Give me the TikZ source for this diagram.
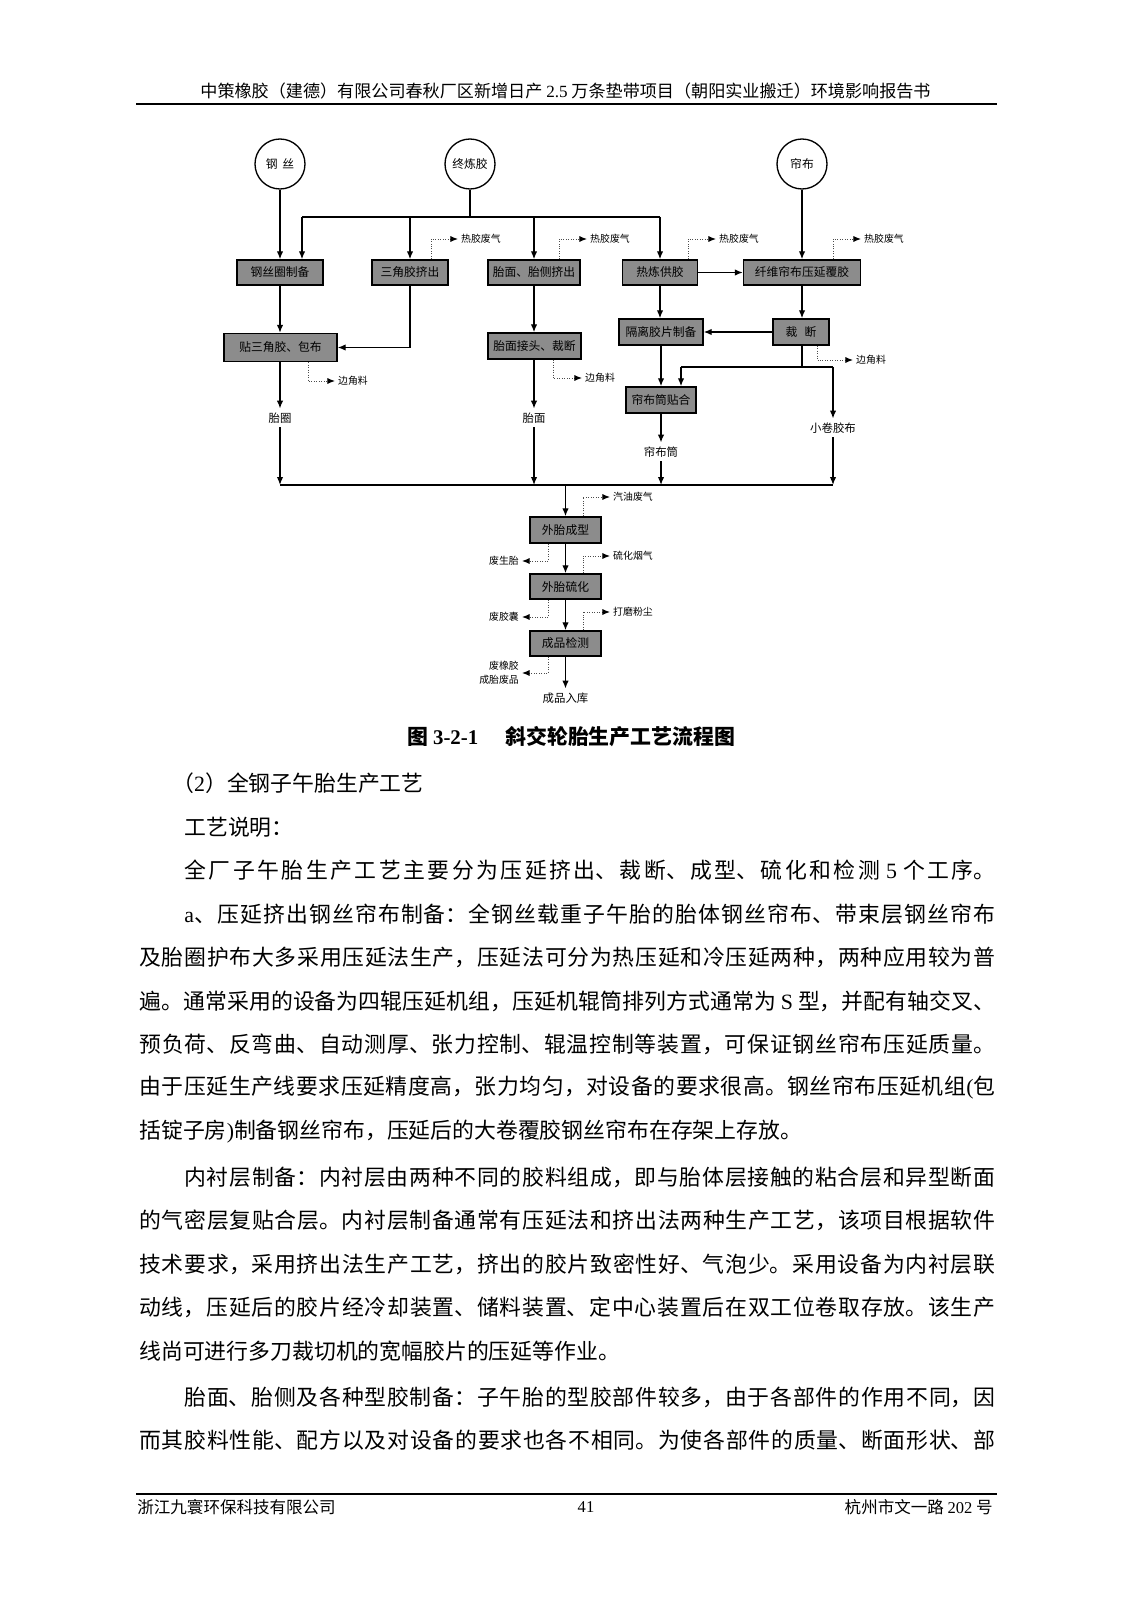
\documentclass[tikz,border=0pt]{standalone}
\usepackage{fontspec}
\setmainfont{Noto Sans CJK SC}
\newfontfamily\lat{Liberation Serif}
\usetikzlibrary{arrows.meta}
\XeTeXlinebreaklocale "zh"
\XeTeXlinebreakskip=0pt plus 3pt minus 0.4pt
\definecolor{boxgray}{gray}{0.55}
\def\pu{0.5263pt}
\newcommand\jline[1]{\parfillskip=0pt\tolerance=10000 #1\par}
\begin{document}
\begin{tikzpicture}[x=0.5263pt, y=-0.5263pt,
  pbox/.style={draw, fill=boxgray, line width=0.75pt, inner sep=0pt, minimum height=25*\pu, font=\fontsize{6.2}{7}\selectfont},
  pcirc/.style={draw, circle, fill=white, line width=0.7pt, minimum size=50*\pu, inner sep=0pt, font=\fontsize{6.2}{7}\selectfont},
  arr/.style={line width=0.7pt, -{Latex[length=4.2pt,width=3.4pt]}},
  plain line/.style={line width=0.7pt},
  dotarr/.style={gray!60!black, line width=0.5pt, dash pattern=on 0.5pt off 0.8pt, -{Latex[length=4pt,width=3.2pt,color=black]}},
  wlbl/.style={inner sep=1.5pt, font=\fontsize{5.2}{7.4}\selectfont},
  olbl/.style={inner sep=2pt, font=\fontsize{6}{7}\selectfont},
  bodytxt/.style={inner sep=0pt, anchor=west, font=\fontsize{11.5}{14}\selectfont},
  jtxt/.style={bodytxt, align=justify},
  hftxt/.style={inner sep=0pt, font=\fontsize{8.7}{10}\selectfont},
]
\useasboundingbox (0,0) rectangle (1131,1600);
\fill[white] (0,0) rectangle (1131,1600);

% header and footer
\node[hftxt, font=\fontsize{9}{10}\selectfont] (hdr) at (565.5,91) {中策橡胶（建德）有限公司春秋厂区新增日产 {\lat 2.5} 万条垫带项目（朝阳实业搬迁）环境影响报告书};
\draw[line width=1pt] (136,104) -- (997,104);
\draw[line width=0.6pt] (136,1494) -- (997,1494);
\node[hftxt, anchor=west] (fl) at (137,1507) {浙江九寰环保科技有限公司};
\node[hftxt] (fc) at (586,1507) {\lat 41};
\node[hftxt, anchor=east] (fr) at (993,1507) {杭州市文一路 {\lat 202} 号};

% circles
\node[pcirc] (C1) at (280,164) {钢\hspace{0.4em}丝};
\node[pcirc] (C2) at (470,164) {终炼胶};
\node[pcirc] (C3) at (802,164) {帘布};

% boxes
\node[pbox, minimum width=86*\pu] (B1) at (280,272.5) {钢丝圈制备};
\node[pbox, minimum width=76*\pu] (B2) at (410,272.5) {三角胶挤出};
\node[pbox, minimum width=92*\pu] (B3) at (534,272.5) {胎面、胎侧挤出};
\node[pbox, minimum width=75*\pu] (B4) at (660,272.5) {热炼供胶};
\node[pbox, minimum width=117*\pu] (B5) at (802,272.5) {纤维帘布压延覆胶};
\node[pbox, minimum width=113*\pu, minimum height=28*\pu] (B6) at (280.5,347.5) {贴三角胶、包布};
\node[pbox, minimum width=93*\pu, minimum height=26*\pu] (B7) at (534.5,346) {胎面接头、裁断};
\node[pbox, minimum width=84*\pu, minimum height=26*\pu] (B8) at (661,332) {隔离胶片制备};
\node[pbox, minimum width=56*\pu, minimum height=26*\pu] (B9) at (801,332) {裁\hspace{0.6em}断};
\node[pbox, minimum width=70*\pu, minimum height=26*\pu] (B10) at (661,400) {帘布筒贴合};
\node[pbox, minimum width=71*\pu, minimum height=26*\pu] (B11) at (565.5,530) {外胎成型};
\node[pbox, minimum width=71*\pu] (B12) at (565.5,586.5) {外胎硫化};
\node[pbox, minimum width=71*\pu] (B13) at (565.5,643.5) {成品检测};

% top bus
\coordinate (j1) at (302,217);
\coordinate (j4) at (660,217);
\draw[plain line] (C2.south) -- (C2.south |- j1);
\draw[plain line] (j1) -- (j4);
\draw[arr] (C1.south) -- (B1.north);
\draw[arr] (j1) -- (j1 |- B1.north);
\draw[arr] (B2.north |- j1) -- (B2.north);
\draw[arr] (B3.north |- j1) -- (B3.north);
\draw[arr] (j4) -- (B4.north);
\draw[arr] (C3.south) -- (B5.north);
\draw[arr] (B4.east) -- (B5.west);

% second row
\draw[arr] (B1.south) -- (B1.south |- B6.north);
\draw[arr] (B2.south) |- (B6.east);
\draw[arr] (B3.south) -- (B3.south |- B7.north);
\draw[arr] (B4.south) -- (B4.south |- B8.north);
\draw[arr] (B5.south) -- (B5.south |- B9.north);
\draw[arr] (B9.west) -- (B8.east);
\draw[arr] (B8.south) -- (B10.north);

% split below cutting
\coordinate (k) at (802,367);
\coordinate (kL) at (681,367);
\coordinate (kR) at (833,367);
\draw[plain line] (k |- B9.south) -- (k);
\draw[plain line] (kL) -- (kR);
\draw[arr] (kL) -- (kL |- B10.north);

% outputs
\node[olbl] (O1) at (280,418) {胎圈};
\node[olbl] (O2) at (534,418) {胎面};
\node[olbl] (O3) at (833,428) {小卷胶布};
\node[olbl] (O4) at (661,452) {帘布筒};
\coordinate (bL) at (280,485);
\coordinate (bR) at (833,485);
\draw[arr] (B6.south -| O1) -- (O1.north);
\draw[arr] (B7.south -| O2) -- (O2.north);
\draw[arr] (kR) -- (O3.north);
\draw[arr] (B10.south) -- (O4.north);
\draw[arr] (O1.south) -- (bL);
\draw[arr] (O2.south) -- (O2 |- bL);
\draw[arr] (O4.south) -- (O4 |- bL);
\draw[arr] (O3.south) -- (bR);
\draw[plain line] (bL) -- (bR);

% main column
\draw[arr] (B11.north |- bL) -- (B11.north);
\draw[arr] (B11.south) -- (B12.north);
\draw[arr] (B12.south) -- (B13.north);
\node[olbl] (O5) at (565.5,698) {成品入库};
\draw[arr] (B13.south) -- (O5.north);

% exhaust labels (dotted)
\node[wlbl, anchor=west] (W1) at (458,239) {热胶废气};
\node[wlbl, anchor=west] (W2) at (587,239) {热胶废气};
\node[wlbl, anchor=west] (W3) at (716,239) {热胶废气};
\node[wlbl, anchor=west] (W4) at (861,239) {热胶废气};
\draw[dotarr] ([xshift=21*\pu]B2.north) |- (W1.west);
\draw[dotarr] ([xshift=25*\pu]B3.north) |- (W2.west);
\draw[dotarr] ([xshift=28*\pu]B4.north) |- (W3.west);
\draw[dotarr] ([xshift=31*\pu]B5.north) |- (W4.west);

\node[wlbl, anchor=west] (W5) at (335,381) {边角料};
\node[wlbl, anchor=west] (W6) at (582,378) {边角料};
\node[wlbl, anchor=west] (W7) at (853,360) {边角料};
\draw[dotarr] ([xshift=27.5*\pu]B6.south) |- (W5.west);
\draw[dotarr] ([xshift=18.5*\pu]B7.south) |- (W6.west);
\draw[dotarr] ([xshift=16*\pu]B9.south) |- (W7.west);

\node[wlbl, anchor=west] (W8) at (610,497) {汽油废气};
\node[wlbl, anchor=west] (W9) at (610,556) {硫化烟气};
\node[wlbl, anchor=west] (W10) at (610,612) {打磨粉尘};
\draw[dotarr] ([xshift=17.5*\pu]B11.north) |- (W8.west);
\draw[dotarr] ([xshift=17.5*\pu]B12.north) |- (W9.west);
\draw[dotarr] ([xshift=17.5*\pu]B13.north) |- (W10.west);

\node[wlbl, anchor=east] (W11) at (522,561) {废生胎};
\node[wlbl, anchor=east] (W12) at (522,617) {废胶囊};
\node[wlbl, anchor=east, align=right] (W13) at (522,673) {废橡胶\\成胎废品};
\draw[dotarr] ([xshift=-17.5*\pu]B11.south) |- (W11.east);
\draw[dotarr] ([xshift=-17.5*\pu]B12.south) |- (W12.east);
\draw[dotarr] ([xshift=-17.5*\pu]B13.south) |- (W13.east);

% caption
\node[inner sep=0pt, anchor=west, font=\fontsize{11}{13}\selectfont\bfseries] (cap1) at (407,737) {图 {\lat\bfseries 3-2-1}};
\node[inner sep=0pt, anchor=west, font=\fontsize{11}{13}\selectfont\bfseries] (cap2) at (505,737) {斜交轮胎生产工艺流程图};

% body text
\node[bodytxt] (t1) at (172,783) {（{\lat 2}）全钢子午胎生产工艺};
\node[bodytxt] (t2) at (184,827) {工艺说明：};
\node[jtxt, text width=811*\pu] (t3) at (184,870) {\jline{全厂子午胎生产工艺主要分为压延挤出、裁断、成型、硫化和检测 {\lat 5} 个工序。}};
\node[jtxt, text width=811*\pu] (t4) at (184,914) {\jline{{\lat a}、压延挤出钢丝帘布制备：全钢丝载重子午胎的胎体钢丝帘布、带束层钢丝帘布}};
\node[jtxt, text width=856*\pu] (t5) at (139,957) {\jline{及胎圈护布大多采用压延法生产，压延法可分为热压延和冷压延两种，两种应用较为普}};
\node[jtxt, text width=856*\pu] (t6) at (139,1001) {\jline{遍。通常采用的设备为四辊压延机组，压延机辊筒排列方式通常为 {\lat S} 型，并配有轴交叉、}};
\node[jtxt, text width=856*\pu] (t7) at (139,1044) {\jline{预负荷、反弯曲、自动测厚、张力控制、辊温控制等装置，可保证钢丝帘布压延质量。}};
\node[jtxt, text width=856*\pu] (t8) at (139,1088) {\jline{由于压延生产线要求压延精度高，张力均匀，对设备的要求很高。钢丝帘布压延机组{\lat (}包}};
\node[bodytxt] (t9) at (139,1132) {括锭子房{\lat )}制备钢丝帘布，压延后的大卷覆胶钢丝帘布在存架上存放。};
\node[jtxt, text width=811*\pu] (t10) at (184,1177) {\jline{内衬层制备：内衬层由两种不同的胶料组成，即与胎体层接触的粘合层和异型断面}};
\node[jtxt, text width=856*\pu] (t11) at (139,1220) {\jline{的气密层复贴合层。内衬层制备通常有压延法和挤出法两种生产工艺，该项目根据软件}};
\node[jtxt, text width=856*\pu] (t12) at (139,1264) {\jline{技术要求，采用挤出法生产工艺，挤出的胶片致密性好、气泡少。采用设备为内衬层联}};
\node[jtxt, text width=856*\pu] (t13) at (139,1307) {\jline{动线，压延后的胶片经冷却装置、储料装置、定中心装置后在双工位卷取存放。该生产}};
\node[bodytxt] (t14) at (139,1351) {线尚可进行多刀裁切机的宽幅胶片的压延等作业。};
\node[jtxt, text width=811*\pu] (t15) at (184,1397) {\jline{胎面、胎侧及各种型胶制备：子午胎的型胶部件较多，由于各部件的作用不同，因}};
\node[jtxt, text width=856*\pu] (t16) at (139,1440) {\jline{而其胶料性能、配方以及对设备的要求也各不相同。为使各部件的质量、断面形状、部}};
\end{tikzpicture}
\end{document}
